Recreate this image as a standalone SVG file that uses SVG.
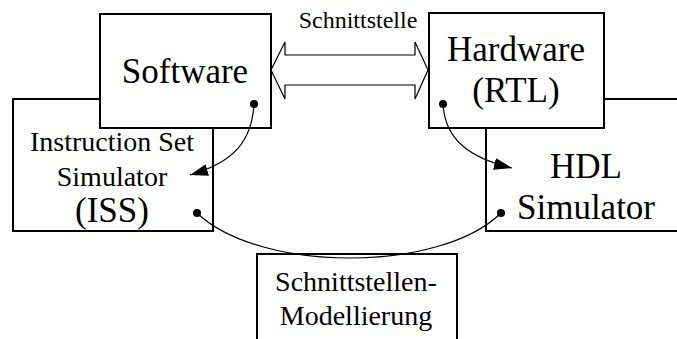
<svg xmlns="http://www.w3.org/2000/svg" width="677" height="339" viewBox="0 0 677 339">
  <style>
    .box { fill: #ffffff; stroke: #000000; stroke-width: 2; }
    .big { font-family: "Liberation Serif", "Times New Roman", serif; font-size: 35px; fill: #000; text-anchor: middle; }
    .mid { font-family: "Liberation Serif", "Times New Roman", serif; font-size: 28px; fill: #000; text-anchor: middle; }
    .small { font-family: "Liberation Serif", "Times New Roman", serif; font-size: 24px; fill: #000; text-anchor: middle; }
    .link { fill: none; stroke: #000000; stroke-width: 1.2; }
    .dot { fill: #000000; }
    .iface { fill: #ffffff; stroke: #000000; stroke-width: 1.2; stroke-linejoin: miter; }
  </style>
  <defs>
    <marker id="head" viewBox="0 0 18 12" refX="18" refY="6" markerWidth="18" markerHeight="12" markerUnits="userSpaceOnUse" orient="auto">
      <path d="M0,0 L18,6 L0,12 Z" fill="#000000"/>
    </marker>
  </defs>

  <rect width="677" height="339" fill="#ffffff"/>

  <!-- Instruction set simulator (behind the software block) -->
  <g id="iss">
    <rect class="box" x="13" y="99" width="200" height="132"/>
    <text class="mid" x="112" y="151">Instruction Set</text>
    <text class="mid" x="112" y="186">Simulator</text>
    <text class="big" x="112" y="222">(ISS)</text>
  </g>

  <!-- HDL simulator (behind the hardware block, runs past the right edge) -->
  <g id="hdl">
    <rect class="box" x="486" y="99" width="200" height="132"/>
    <text class="big" x="586" y="178">HDL</text>
    <text class="big" x="586" y="219">Simulator</text>
  </g>

  <g id="software">
    <rect class="box" x="100" y="14" width="171" height="114"/>
    <text class="big" x="185" y="83">Software</text>
  </g>

  <g id="hardware">
    <rect class="box" x="429" y="13" width="175" height="115"/>
    <text class="big" x="516" y="61">Hardware</text>
    <text class="big" x="516" y="102">(RTL)</text>
  </g>

  <g id="modelling">
    <rect class="box" x="257" y="254" width="200" height="100"/>
    <text class="mid" x="356" y="291">Schnittstellen-</text>
    <text class="mid" x="356" y="325">Modellierung</text>
  </g>

  <g id="interface">
    <polygon class="iface" points="271,70 285,42 285,55 415,55 415,42 428,70 415,99 415,85 285,85 285,99"/>
    <text class="small" x="358" y="28">Schnittstelle</text>
  </g>

  <g id="connectors">
    <path class="link" d="M254,104 C252,140 235,162 190,175" marker-end="url(#head)"/>
    <path class="link" d="M443,104 C445,140 470,158 512,168" marker-end="url(#head)"/>
    <path class="link" d="M197,213 C260,273 440,273 501,213"/>
    <circle class="dot" cx="254" cy="104" r="4"/>
    <circle class="dot" cx="443" cy="104" r="4"/>
    <circle class="dot" cx="197" cy="213" r="4"/>
    <circle class="dot" cx="501" cy="213" r="4"/>
  </g>
</svg>
